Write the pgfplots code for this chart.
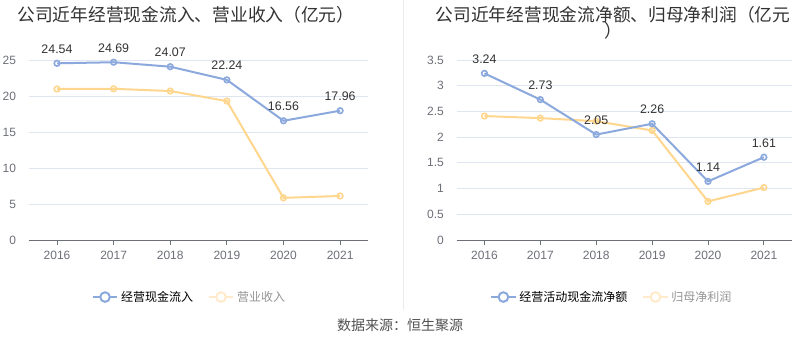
\documentclass[border=0pt]{standalone}
\usepackage{pgfplots}
\pgfplotsset{compat=1.18}
\usepackage{fontspec}
\setmainfont{Liberation Sans}
\newfontfamily\cjk{Noto Sans CJK SC}
\definecolor{blueC}{RGB}{140,169,221}
\definecolor{orangeC}{RGB}{255,214,142}
\definecolor{orangeL}{RGB}{255,234,204}
\definecolor{gridC}{RGB}{224,230,241}
\definecolor{tickC}{RGB}{110,112,121}
\definecolor{legGray}{RGB}{150,150,150}
\definecolor{labC}{RGB}{51,51,51}
\pgfplotsset{
  legimg/.style={legend image code/.code={
    \draw[##1, line width=1.5pt] (0pt,0pt) -- (18.5pt,0pt);
    \draw[##1, line width=1.5pt, fill=white] (9.25pt,0pt) circle (3.6pt);}},
  base/.style={
    scale only axis, height=135pt,
    xmin=-0.5, xmax=5.5, xtick={0,...,5},
    xticklabels={2016,2017,2018,2019,2020,2021},
    ymin=0,
    axis x line*=bottom, axis y line*=left,
    x axis line style={tickC, line width=0.75pt, -},
    y axis line style={draw=none},
    xtick style={tickC, line width=0.75pt},
    major tick length=4pt, tick align=outside,
    ymajorgrids, grid style={gridC, line width=0.75pt},
    ytick style={draw=none},
    tick label style={tickC, font=\fontsize{9}{9}\selectfont},
    /pgf/number format/assume math mode=true,
    /pgf/number format/fixed,
    yticklabel style={xshift=-2pt},
    xticklabel style={yshift=-1pt},
    clip=false,
    legend columns=2,
    legend style={draw=none, fill=none, anchor=center,
      font=\cjk\fontsize{9}{9}\selectfont,
      /tikz/every even column/.append style={column sep=9pt},
      inner sep=0pt, nodes={inner sep=2pt}},
    legend cell align=left,
  },
  ser/.style={line width=1.5pt, mark=o, mark size=2.1pt,
    mark options={line width=1.2pt, fill=white, solid}},
  lab/.style={nodes near coords, point meta=explicit symbolic,
    every node near coord/.append style={labC, anchor=base, yshift=7.5pt,
      inner sep=0pt, font=\fontsize{9.3}{9.3}\selectfont}},
}
\begin{document}
\begin{tikzpicture}[x=0.75pt,y=0.75pt]
\path[use as bounding box, fill=white] (0,0) rectangle (800,358);
\draw[gray!15, line width=0.75pt] (403.5,358) -- (403.5,48);
\node[font=\cjk\fontsize{13.3}{13.3}\selectfont, text=labC] at (186,343) {公司近年经营现金流入、营业收入（亿元）};
\node[font=\cjk\fontsize{13.3}{13.3}\selectfont, text=labC] at (613,343) {公司近年经营现金流净额、归母净利润（亿元};
\node[font=\cjk\fontsize{13.3}{13.3}\selectfont, text=labC] at (613,327) {）};
\node[font=\cjk\fontsize{10.5}{10.5}\selectfont, text=labC!85] at (400,33) {数据来源：恒生聚源};

\begin{axis}[base, at={(21.525pt,88.5pt)}, anchor=south west, width=254.8pt,
  ymax=25, ytick={0,5,...,25},
  legend style={at={(0.474,-0.317)}}]
\addplot[ser, orangeC, forget plot] coordinates {(0,20.97) (1,21.0) (2,20.69) (3,19.3) (4,5.85) (5,6.12)};
\addplot[ser, blueC, lab, forget plot] coordinates {(0,24.54)[24.54] (1,24.69)[24.69] (2,24.07)[24.07] (3,22.24)[22.24] (4,16.56)[16.56] (5,17.96)[17.96]};
\addlegendimage{legimg, blueC}
\addlegendentry{经营现金流入}
\addlegendimage{legimg, orangeL}
\addlegendentry{\textcolor{legGray}{营业收入}}
\end{axis}

\begin{axis}[base, at={(342.375pt,88.5pt)}, anchor=south west, width=251.5pt,
  ymax=3.5, ytick={0,0.5,...,3.5},
  legend style={at={(0.464,-0.317)}}]
\addplot[ser, orangeC, forget plot] coordinates {(0,2.41) (1,2.37) (2,2.31) (3,2.13) (4,0.75) (5,1.02)};
\addplot[ser, blueC, lab, forget plot] coordinates {(0,3.24)[3.24] (1,2.73)[2.73] (2,2.05)[2.05] (3,2.26)[2.26] (4,1.14)[1.14] (5,1.61)[1.61]};
\addlegendimage{legimg, blueC}
\addlegendentry{经营活动现金流净额}
\addlegendimage{legimg, orangeL}
\addlegendentry{\textcolor{legGray}{归母净利润}}
\end{axis}
\end{tikzpicture}
\end{document}
